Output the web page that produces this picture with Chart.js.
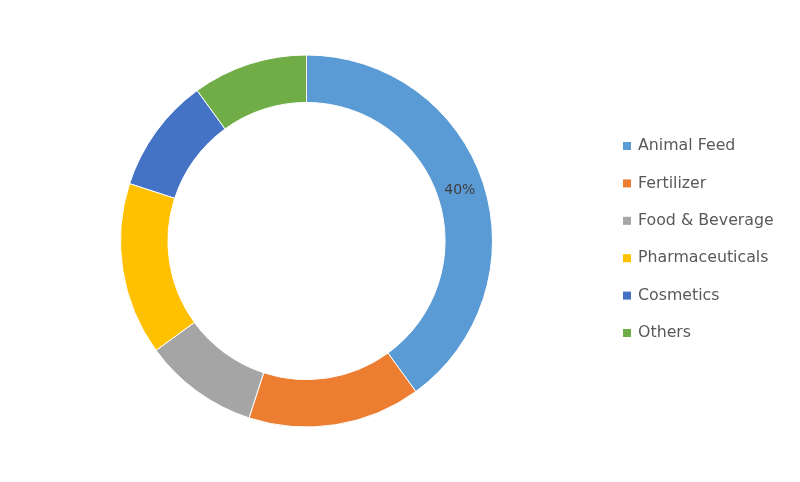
<!DOCTYPE html>
<html>
<head>
<meta charset="utf-8">
<script src="https://cdn.jsdelivr.net/npm/chart.js@4/dist/chart.umd.min.js"></script>
<style>
  html, body { margin: 0; padding: 0; background: #fff; }
  #wrap { width: 800px; height: 482px; }
</style>
</head>
<body>
<div id="wrap"><canvas id="market-share"></canvas></div>
<script>
var categories = ["Animal Feed", "Fertilizer", "Food & Beverage", "Pharmaceuticals", "Cosmetics", "Others"];
var shares = [40, 15, 10, 15, 10, 10];
var sliceLabels = ["40%", "", "", "", "", ""];
var colors = ["#5B9BD5", "#ED7D31", "#A5A5A5", "#FFC000", "#4472C4", "#70AD47"];

// draws the percentage text on the slices and the legend at the right
var extras = {
    id: 'extras',
    afterDatasetsDraw: function(chart) {
        var ctx = chart.ctx;
        var arcs = chart.getDatasetMeta(0).data;
        ctx.save();
        ctx.font = '14px "DejaVu Sans"';
        ctx.fillStyle = '#404040';
        ctx.textAlign = 'center';
        ctx.textBaseline = 'middle';
        arcs.forEach(function(arc, i) {
            if (!sliceLabels[i]) return;
            var p = arc.tooltipPosition();
            ctx.fillText(sliceLabels[i], p.x - 1, p.y);
        });

        ctx.textAlign = 'left';
        ctx.font = '15.8px "DejaVu Sans"';
        categories.forEach(function(name, i) {
            var y = 146 + i * 37.4;
            ctx.fillStyle = colors[i];
            ctx.fillRect(623, y - 4, 8, 8);
            ctx.fillStyle = '#595959';
            ctx.fillText(name, 638, y);
        });
        ctx.restore();
    }
};

var ctx = document.getElementById('market-share').getContext('2d');
var chart = new Chart(ctx, {
    type: 'doughnut',
    data: {
        labels: categories,
        datasets: [{
            data: shares,
            backgroundColor: colors,
            borderColor: '#ffffff',
            borderWidth: 1
        }]
    },
    options: {
        responsive: true,
        maintainAspectRatio: false,
        animation: false,
        cutout: '74.5%',
        layout: {
            padding: { left: 120, right: 307, top: 54.5, bottom: 54.5 }
        },
        plugins: {
            legend: { display: false },
            tooltip: { enabled: false }
        }
    },
    plugins: [extras]
});
</script>
</body>
</html>
